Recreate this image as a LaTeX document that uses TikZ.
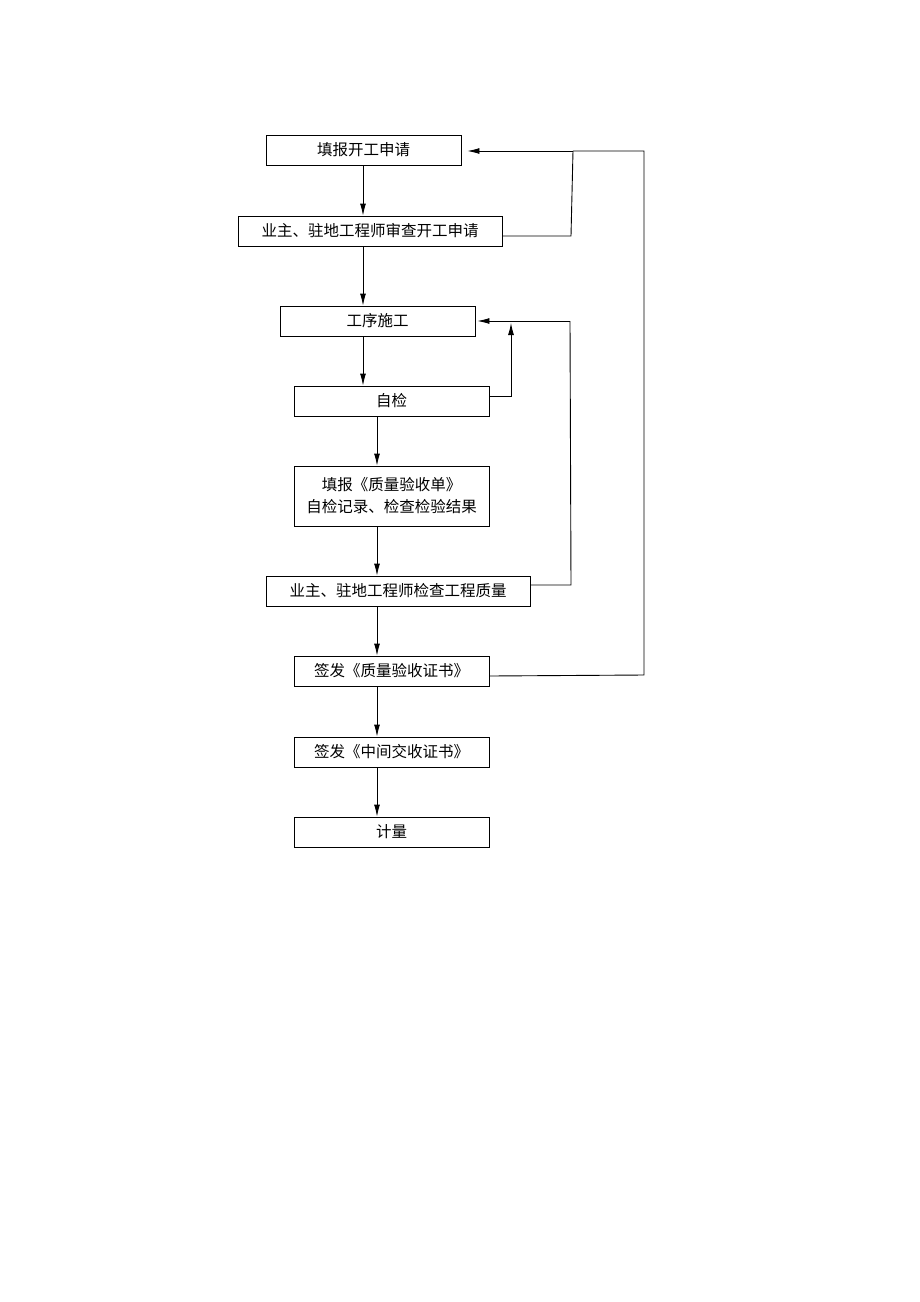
\documentclass[tikz,border=0pt]{standalone}
\usepackage{fontspec}
\usepackage{tikz}
\usetikzlibrary{arrows.meta}
\setmainfont{Noto Sans CJK SC}

\begin{document}
\begin{tikzpicture}[x=1pt,y=-1pt,
    box/.style={draw, line width=0.9pt, minimum width=195, minimum height=30, inner sep=0pt,
                font=\fontsize{15.5}{22}\selectfont},
    arr/.style={line width=0.9pt, -{Latex[length=12pt,width=6pt]}},
    line/.style={line width=0.9pt}]
        \useasboundingbox (0,0) rectangle (920,1302);

        % Boxes of the flow
        \node[box] (b1) at (363.5,150) {填报开工申请};
        \node[box, minimum width=264] (b2) at (370,231) {业主、驻地工程师审查开工申请};
        \node[box] (b3) at (377.5,321) {工序施工};
        \node[box] (b4) at (391.5,401) {自检};
        \node[box, minimum height=60, align=center] (b5) at (391.5,496) {填报《质量验收单》\\自检记录、检查检验结果};
        \node[box, minimum width=264] (b6) at (398,591) {业主、驻地工程师检查工程质量};
        \node[box] (b7) at (391.5,671) {签发《质量验收证书》};
        \node[box] (b8) at (391.5,752) {签发《中间交收证书》};
        \node[box] (b9) at (391.5,832) {计量};

        % Columns of the down arrows
        \coordinate (colA) at (363,0);
        \coordinate (colB) at (377,0);

        % Down arrows
        \draw[arr] (b1.south -| colA) -- (b2.north -| colA);
        \draw[arr] (b2.south -| colA) -- (b3.north -| colA);
        \draw[arr] (b3.south -| colA) -- (b4.north -| colA);
        \foreach \a/\b in {b4/b5,b5/b6,b6/b7,b7/b8,b8/b9} {
            \draw[arr] (\a.south -| colB) -- (\b.north -| colB);
        }

        % Return loops
        \coordinate (j1) at (573,151);
        \coordinate (j2) at (511,323);
        \coordinate (j3) at (570,321);
        \draw[line] ([yshift=-5]b7.east) -- (644,675) -- (644,151) -- (j1);
        \draw[line] ([yshift=-5]b2.east) -- (571,236) -- (j1);
        \draw[arr] (j1) -- ([xshift=6,yshift=-1]b1.east);
        \draw[arr] ([yshift=5]b4.east) -| (j2);
        \draw[line] ([yshift=6]b6.east) -- (571,585) -- (j3);
        \draw[arr] (j3) -- ([xshift=2]b3.east);
    \end{tikzpicture}
\end{document}
